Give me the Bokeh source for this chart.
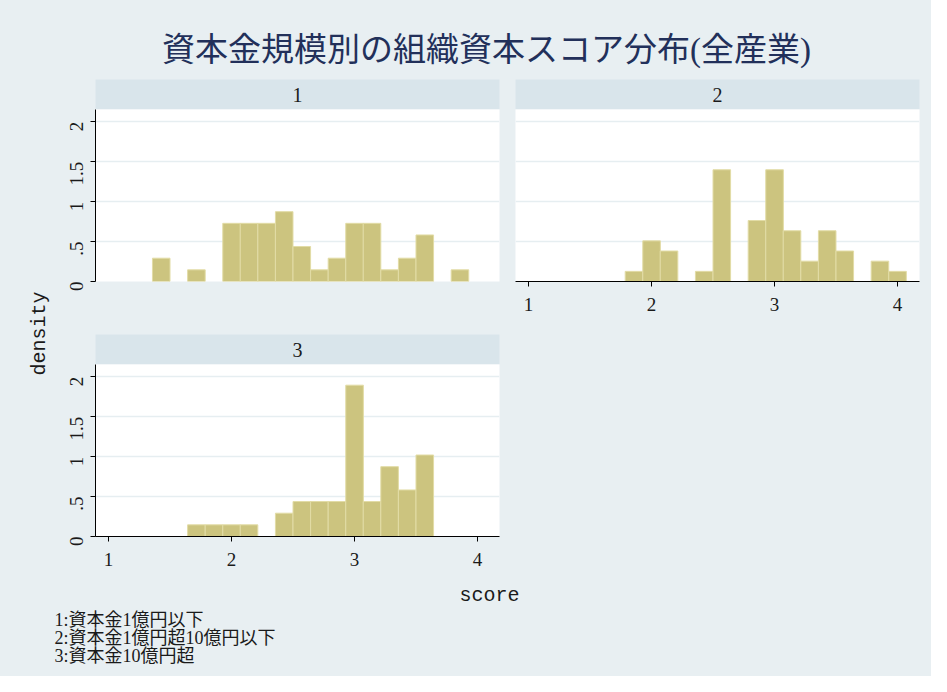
import math
from bokeh.plotting import figure
from bokeh.models import Range1d, FixedTicker, Label, Grid, LinearAxis, ColumnDataSource
from bokeh.layouts import column, row
from bokeh.embed import file_html
from bokeh.resources import INLINE

# ---------------- data ----------------
title_text = "資本金規模別の組織資本スコア分布(全産業)"
group_labels = ["1", "2", "3"]
note_lines = ["1:資本金1億円以下", "2:資本金1億円超10億円以下", "3:資本金10億円超"]
x_title = "score"
y_title = "density"
x_ticks = [1, 2, 3, 4]
y_ticks = [0, 0.5, 1, 1.5, 2]
y_tick_labels = ["0", ".5", "1", "1.5", "2"]
bin_width = 0.1429
bin_left = [1.357, 1.500, 1.643, 1.786, 1.929, 2.071, 2.214, 2.357, 2.500, 2.643,
            2.786, 2.929, 3.071, 3.214, 3.357, 3.500, 3.643, 3.786, 3.929]
density_g1 = [0.292, 0, 0.146, 0, 0.729, 0.729, 0.729, 0.875, 0.438, 0.146,
              0.292, 0.729, 0.729, 0.146, 0.292, 0.583, 0, 0.146, 0]
density_g2 = [0, 0, 0, 0.127, 0.509, 0.382, 0, 0.127, 1.400, 0,
              0.764, 1.400, 0.636, 0.255, 0.636, 0.382, 0, 0.255, 0.127]
density_g3 = [0, 0, 0.146, 0.146, 0.146, 0.146, 0, 0.292, 0.438, 0.438,
              0.438, 1.896, 0.438, 0.875, 0.583, 1.021, 0, 0, 0]

# ---------------- style ----------------
BG = "#E8EFF2"
STRIP = "#D9E5EB"
GRID = "#E6EEF1"
FILL = "#CCC47F"
EDGE = "#E2DCA6"
SERIF = "Liberation Serif"
MONO = "Liberation Mono"
MIXED = "'Liberation Serif', 'Noto Sans CJK JP'"
TXT = "#1a1a1a"

X_RANGE = (0.894, 4.179)
Y_RANGE = (0, 2.155)


def blank_fig(w, h, fill=BG, bl=0, br=0):
    f = figure(width=w, height=h, output_backend="svg", toolbar_location=None,
               x_range=Range1d(0, 1), y_range=Range1d(0, 1),
               x_axis_location=None, y_axis_location=None,
               min_border=0, min_border_left=bl, min_border_right=br)
    f.grid.visible = False
    f.outline_line_color = None
    f.background_fill_color = fill
    f.border_fill_color = BG
    return f


def strip_fig(text, w, bl, br):
    f = blank_fig(w, 30, fill=STRIP, bl=bl, br=br)
    f.add_layout(Label(x=202, y=15, x_units="screen", y_units="screen", text=text,
                       text_align="center", text_baseline="middle",
                       text_font=SERIF, text_font_size="20px", text_color=TXT))
    return f


def style_axis(ax):
    ax.axis_line_color = "#000000"
    ax.axis_line_width = 1
    ax.major_tick_line_color = "#000000"
    ax.major_tick_out = 5
    ax.major_tick_in = 0
    ax.minor_tick_out = 0
    ax.minor_tick_in = 0
    ax.major_label_text_font = SERIF
    ax.major_label_text_font_size = "19px"
    ax.major_label_text_color = TXT


def panel(dens, w, h, bl, br, bb, show_x, show_y):
    p = figure(width=w, height=h, output_backend="svg", toolbar_location=None,
               x_range=Range1d(*X_RANGE), y_range=Range1d(*Y_RANGE),
               x_axis_location=None, y_axis_location=None,
               min_border_left=bl, min_border_right=br, min_border_top=0,
               min_border_bottom=bb)
    p.grid.visible = False
    p.outline_line_color = None
    p.background_fill_color = "white"
    p.border_fill_color = BG
    p.add_layout(Grid(dimension=1, ticker=FixedTicker(ticks=y_ticks),
                      grid_line_color=GRID, grid_line_width=1.5))
    keep = [i for i, d in enumerate(dens) if d > 0]
    src = ColumnDataSource(dict(
        left=[bin_left[i] for i in keep],
        right=[bin_left[i] + bin_width for i in keep],
        top=[dens[i] for i in keep]))
    p.quad(left="left", right="right", bottom=0, top="top", source=src,
           fill_color=FILL, line_color=EDGE, line_width=1)
    if show_x:
        ax = LinearAxis(ticker=FixedTicker(ticks=x_ticks))
        style_axis(ax)
        ax.major_label_standoff = 11
        p.add_layout(ax, "below")
    if show_y:
        ay = LinearAxis(ticker=FixedTicker(ticks=y_ticks))
        ay.major_label_overrides = {t: s for t, s in zip(y_ticks, y_tick_labels)}
        ay.major_label_orientation = math.pi / 2
        style_axis(ay)
        ay.major_label_standoff = 14
        p.add_layout(ay, "left")
    return p


# ---------------- layout ----------------
W = 931
title_fig = blank_fig(W, 79)
title_fig.add_layout(Label(x=486, y=30, x_units="screen", y_units="screen", text=title_text,
                           text_align="center", text_baseline="middle",
                           text_font=MIXED, text_font_size="33px", text_color="#22305A"))

p1 = panel(density_g1, 447, 225, 35, 8, 53, False, True)
p2 = panel(density_g2, 424, 225, 8, 12, 53, True, False)
p3 = panel(density_g3, 447, 212, 35, 8, 40, True, True)

col1 = column(strip_fig(group_labels[0], 447, 35, 8), p1, spacing=0)
col2 = column(strip_fig(group_labels[1], 424, 8, 12), p2, spacing=0)
col3 = column(strip_fig(group_labels[2], 447, 35, 8), p3, spacing=0)
filler = blank_fig(424, 242)

dens_fig = blank_fig(60, 497)
dens_fig.add_layout(Label(x=39, y=243, x_units="screen", y_units="screen", text=y_title,
                          angle=math.pi / 2, text_align="center", text_baseline="middle",
                          text_font=MONO, text_font_size="20px", text_color=TXT))

bottom_fig = blank_fig(W, 100)
bottom_fig.add_layout(Label(x=489, y=81, x_units="screen", y_units="screen", text=x_title,
                            text_align="center", text_baseline="middle",
                            text_font=MONO, text_font_size="20px", text_color=TXT))
for k, ln in enumerate(note_lines):
    bottom_fig.add_layout(Label(x=54, y=57 - 18 * k, x_units="screen", y_units="screen", text=ln,
                                text_align="left", text_baseline="middle",
                                text_font=MIXED, text_font_size="18px", text_color=TXT))

grid_block = column(row(col1, col2, spacing=0), row(col3, filler, spacing=0), spacing=0)
root = column(title_fig, row(dens_fig, grid_block, spacing=0), bottom_fig, spacing=0,
              styles={"background-color": BG})

open("out.html", "w").write(file_html(root, INLINE))
